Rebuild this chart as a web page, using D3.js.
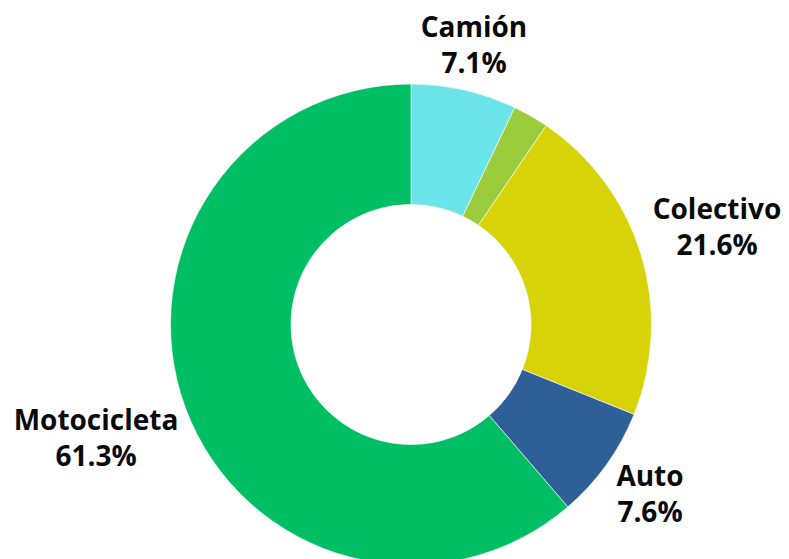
<!DOCTYPE html>
<html><head><meta charset="utf-8">
<script src="https://cdn.jsdelivr.net/npm/d3@7"></script>
<style>html,body{margin:0;padding:0;background:#fff;}svg{display:block;}</style>
</head><body>
<script>
const categories = ["Camión", "Otros", "Colectivo", "Auto", "Motocicleta"];
const values = [7.1, 2.4, 21.6, 7.6, 61.3];
const colors = ["#6ae4e8", "#9bcc3c", "#d8d208", "#2e6097", "#00be64"];
const showLabel = [true, false, true, true, true];
// label anchor (centre x, first baseline y) relative to donut centre (layout)
const labelOffsets = [[63, -288], null, [306, -106], [239, 161.5], [-315, 105]];

const W = 789, H = 559;
const cx = 411, cy = 324.5, R = 240.5, r0 = 120;

const svg = d3.select("body").append("svg").attr("width", W).attr("height", H);
const g = svg.append("g").attr("transform", `translate(${cx},${cy})`);

const data = categories.map((c, i) => ({name: c, value: values[i], color: colors[i], show: showLabel[i], off: labelOffsets[i]}));
const pie = d3.pie().value(d => d.value).sort(null);
const arc = d3.arc().innerRadius(r0).outerRadius(R);
const arcs = pie(data);

g.selectAll("path").data(arcs).join("path")
  .attr("d", arc)
  .attr("fill", d => d.data.color)
  .attr("stroke", "#ffffff")
  .attr("stroke-width", 0.6);

const fmt = d3.format(".1f");
const lab = g.selectAll("text.lab").data(arcs.filter(d => d.data.show)).join("text")
  .attr("class", "lab")
  .attr("text-anchor", "middle")
  .attr("font-family", "'Open Sans', 'Noto Sans', sans-serif")
  .attr("font-weight", 700)
  .attr("font-size", 28)
  .attr("fill", "#0a0a0a");
lab.append("tspan").attr("x", d => d.data.off[0]).attr("y", d => d.data.off[1]).text(d => d.data.name);
lab.append("tspan").attr("x", d => d.data.off[0]).attr("y", d => d.data.off[1] + 36).text(d => fmt(d.data.value) + "%");
</script>
</body></html>
